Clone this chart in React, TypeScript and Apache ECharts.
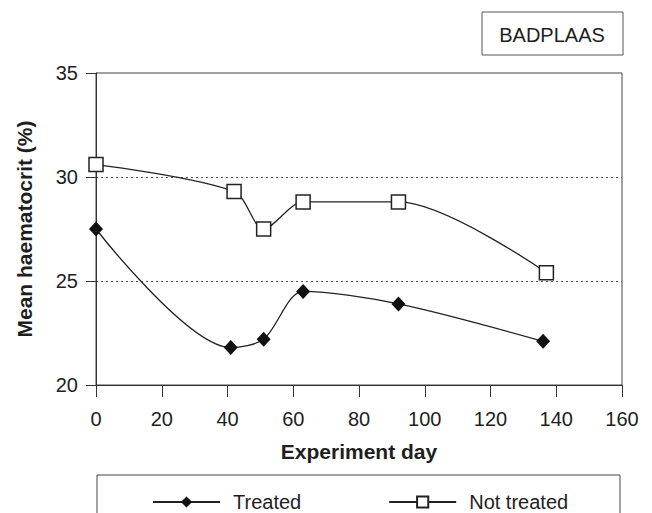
import React, { useEffect, useRef } from "react";
import * as echarts from "echarts";

const treatedDays = [0, 41, 51, 63, 92, 136];
const treatedValues = [27.5, 21.8, 22.2, 24.5, 23.9, 22.1];
const notTreatedDays = [0, 42, 51, 63, 92, 137];
const notTreatedValues = [30.6, 29.3, 27.5, 28.8, 28.8, 25.4];
const seriesNames = ["Treated", "Not treated"];
const siteLabel = "BADPLAAS";
const xAxisTitle = "Experiment day";
const yAxisTitle = "Mean haematocrit (%)";

const FONT = "Liberation Sans, Arial, sans-serif";
const INK = "#1e1e1e";
const NONE = "rgba(0,0,0,0)";

export default function App() {
  const ref = useRef<HTMLDivElement>(null);
  useEffect(() => {
    if (!ref.current) return;
    const chart = echarts.init(ref.current, null, { renderer: "svg" });
    const treated = treatedDays.map((d, i) => [d, treatedValues[i]]);
    const notTreated = notTreatedDays.map((d, i) => [d, notTreatedValues[i]]);
    chart.setOption({
      animation: false,
      backgroundColor: "#ffffff",
      textStyle: { fontFamily: FONT, color: INK },
      grid: {
        left: 96,
        right: 30,
        top: 73,
        bottom: 128,
        show: true,
        borderColor: "#444",
        borderWidth: 1,
      },
      graphic: [
        {
          type: "rect",
          shape: { x: 482, y: 12, width: 141, height: 43 },
          style: { fill: "#fff", stroke: "#555", lineWidth: 1 },
        },
        {
          type: "text",
          x: 552,
          y: 35,
          style: {
            text: siteLabel,
            font: `20px ${FONT}`,
            fill: INK,
            align: "center",
            verticalAlign: "middle",
          },
        },
        {
          type: "rect",
          shape: { x: 97, y: 475, width: 523, height: 60 },
          style: { fill: "none", stroke: "#444", lineWidth: 1 },
        },
      ],
      legend: {
        left: 147,
        top: 487,
        itemGap: 87,
        itemWidth: 67,
        itemHeight: 14,
        data: seriesNames,
        textStyle: { fontSize: 20, fontFamily: FONT, color: INK, padding: [0, 0, 0, 8] },
      },
      xAxis: {
        type: "value",
        min: 0,
        max: 160,
        interval: 20,
        name: xAxisTitle,
        nameLocation: "middle",
        nameGap: 56,
        nameTextStyle: { fontSize: 21, fontWeight: "bold", color: INK, fontFamily: FONT },
        axisLine: { show: true, lineStyle: { color: "#333", width: 1 } },
        axisTick: { show: true, length: 12, lineStyle: { color: "#333" } },
        axisLabel: { fontSize: 20, color: INK, margin: 24, fontFamily: FONT },
        splitLine: { show: false },
      },
      yAxis: {
        type: "value",
        min: 20,
        max: 35,
        interval: 5,
        name: yAxisTitle,
        nameLocation: "middle",
        nameGap: 61,
        nameTextStyle: { fontSize: 21, fontWeight: "bold", color: INK, fontFamily: FONT },
        axisLine: { show: true, lineStyle: { color: "#333", width: 1 } },
        axisTick: { show: true, length: 10, lineStyle: { color: "#333" } },
        axisLabel: { fontSize: 20, color: INK, margin: 18, fontFamily: FONT },
        splitLine: {
          show: true,
          lineStyle: { color: [NONE, "#555", "#555", NONE], type: [2, 3], width: 1 },
        },
      },
      series: [
        {
          name: seriesNames[0],
          type: "line",
          data: treated,
          smooth: 0.3,
          symbol: "diamond",
          symbolSize: [14, 15],
          lineStyle: { color: "#222", width: 1.3 },
          itemStyle: { color: "#111", borderColor: "#111", borderWidth: 0 },
          z: 3,
        },
        {
          name: seriesNames[1],
          type: "line",
          data: notTreated,
          smooth: 0.3,
          symbol: "rect",
          symbolSize: 14,
          showAllSymbol: true,
          lineStyle: { color: "#222", width: 1.3 },
          itemStyle: { color: "#fff", borderColor: "#222", borderWidth: 1.5 },
          z: 3,
        },
      ],
    });
    return () => chart.dispose();
  }, []);
  return (
    <div
      ref={ref}
      style={{ position: "fixed", left: 0, top: 0, width: 652, height: 513 }}
    />
  );
}
